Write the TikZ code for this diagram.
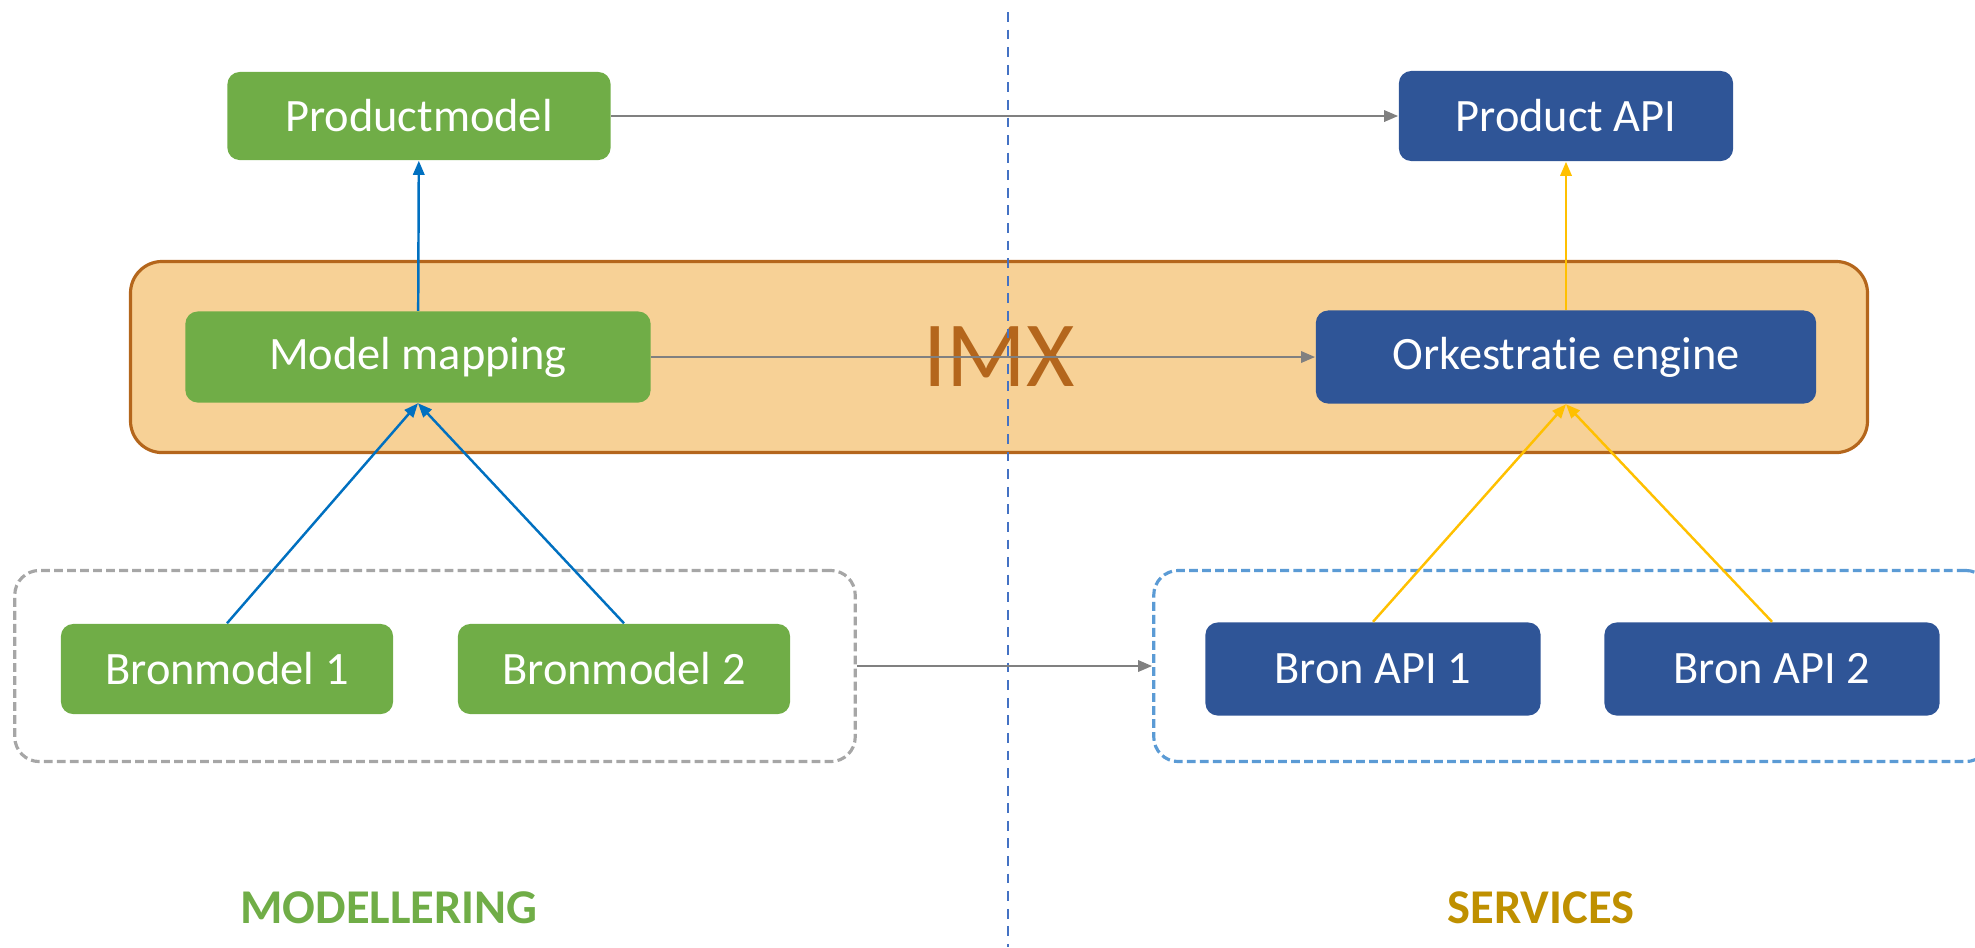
\documentclass[tikz,border=0pt]{standalone}
\usepackage{fontspec}
\setmainfont[Ligatures=NoCommon]{Carlito}
\usepackage{tikz}
\usetikzlibrary{arrows.meta}
\definecolor{groen}{HTML}{70AD47}
\definecolor{donkerblauw}{HTML}{2F5597}
\definecolor{imxvul}{HTML}{F7D196}
\definecolor{imxrand}{HTML}{B4661C}
\definecolor{pijlblauw}{HTML}{0070C0}
\definecolor{pijlgeel}{HTML}{FFC000}
\definecolor{pijlgrijs}{HTML}{808080}
\definecolor{randgrijs}{HTML}{A6A6A6}
\definecolor{randblauw}{HTML}{5B9BD5}
\definecolor{scheiding}{HTML}{4472C4}
\definecolor{goud}{HTML}{BF9000}

\begin{document}
\begin{tikzpicture}[x=0.01cm, y=-0.01cm,
  blok/.style={rounded corners=3.5pt, text=white, minimum height=0.91cm,
    font=\fontsize{13.2}{15}\selectfont},
  groenblok/.style={blok, fill=groen},
  blauwblok/.style={blok, fill=donkerblauw},
  groep/.style={rounded corners=7pt, line width=0.9pt, dash pattern=on 2.5pt off 1.2pt},
  pijl/.style={line width=0.7pt, -{Triangle[length=4pt,width=3.2pt]}}]
\useasboundingbox (0,0) rectangle (1975,947);

% IMX laag
\node (imx) [fill=imxvul, draw=imxrand, line width=0.9pt, rounded corners=9pt,
  minimum width=17.36cm, minimum height=1.91cm, text=imxrand,
  font=\fontsize{26.5}{30}\selectfont] at (999,357) {IMX};

% scheiding modellering / services
\draw [scheiding, line width=0.8pt, dash pattern=on 2.8pt off 2.2pt] (1008,12) -- (1008,947);

% groepen onderaan
\node (bronmodellen) [groep, draw=randgrijs, minimum width=8.4cm, minimum height=1.91cm] at (435,666) {};
\node (bronapis) [groep, draw=randblauw, minimum width=8.36cm, minimum height=1.91cm] at (1572,666) {};

\node (pm) [groenblok, minimum width=3.83cm, minimum height=0.88cm] at (419,116) {Productmodel};
\node (papi) [blauwblok, minimum width=3.34cm, minimum height=0.9cm] at (1566,116) {Product API};
\node (mm) [groenblok, minimum width=4.65cm] at (418,357) {Model mapping};
\node (oe) [blauwblok, minimum width=5cm, minimum height=0.93cm] at (1566,357) {Orkestratie engine};
\node (bm1) [groenblok, minimum width=3.32cm, minimum height=0.9cm] at (227,669) {Bronmodel 1};
\node (bm2) [groenblok, minimum width=3.32cm, minimum height=0.9cm] at (624,669) {Bronmodel 2};
\node (bapi1) [blauwblok, minimum width=3.35cm, minimum height=0.93cm] at (1373,669) {Bron API 1};
\node (bapi2) [blauwblok, minimum width=3.35cm, minimum height=0.93cm] at (1772,669) {Bron API 2};

\node (modellering) [text=groen, font=\fontsize{13.8}{16}\selectfont\bfseries] at (389,908) {MODELLERING};
\node (services) [text=goud, font=\fontsize{13.8}{16}\selectfont\bfseries] at (1541,908) {SERVICES};

% verbindingen
\draw [pijl, pijlgrijs] (pm) -- (papi);
\draw [pijl, pijlgrijs] (mm) -- (oe);
\draw [pijl, pijlgrijs] (bronmodellen) -- (bronapis);
\draw [pijl, pijlblauw] (mm) -- (pm);
\draw [pijl, pijlblauw] (bm1.north) -- (mm.south);
\draw [pijl, pijlblauw] (bm2.north) -- (mm.south);
\draw [pijl, pijlgeel] (oe) -- (papi);
\draw [pijl, pijlgeel] (bapi1.north) -- (oe.south);
\draw [pijl, pijlgeel] (bapi2.north) -- (oe.south);
\end{tikzpicture}
\end{document}
